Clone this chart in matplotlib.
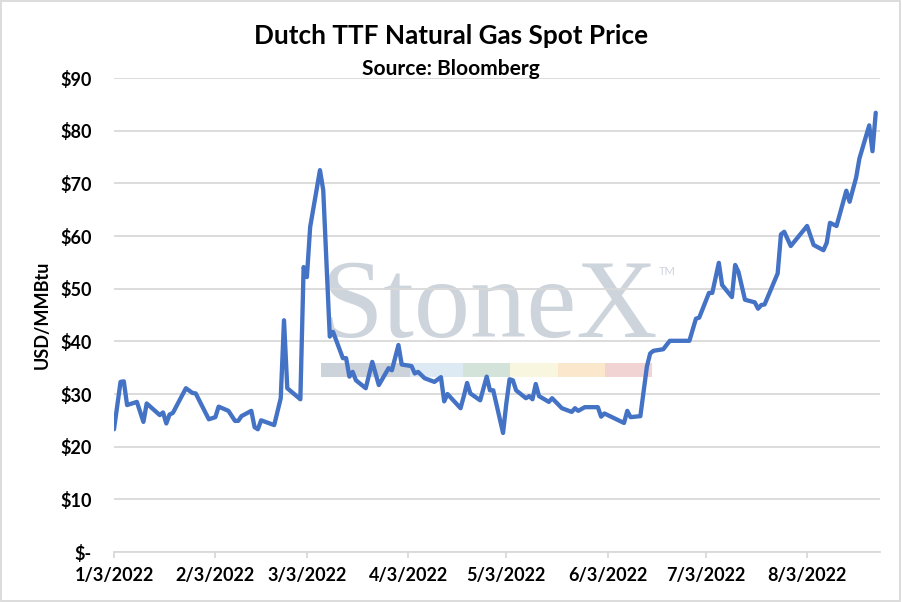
import matplotlib
matplotlib.use("Agg")
import matplotlib.pyplot as plt
from matplotlib.patches import Rectangle
import pandas as pd

# values (USD/MMBtu)
dates = [
    "2022-01-03", "2022-01-05", "2022-01-06", "2022-01-07", "2022-01-10", "2022-01-12",
    "2022-01-13", "2022-01-17", "2022-01-18", "2022-01-19", "2022-01-20", "2022-01-21",
    "2022-01-25", "2022-01-27", "2022-01-28", "2022-02-01", "2022-02-03", "2022-02-04",
    "2022-02-07", "2022-02-09", "2022-02-10", "2022-02-11", "2022-02-14", "2022-02-15",
    "2022-02-16", "2022-02-17", "2022-02-21", "2022-02-23", "2022-02-24", "2022-02-25",
    "2022-03-01", "2022-03-02", "2022-03-03", "2022-03-04", "2022-03-07", "2022-03-08",
    "2022-03-10", "2022-03-11", "2022-03-14", "2022-03-15", "2022-03-16", "2022-03-17",
    "2022-03-18", "2022-03-21", "2022-03-23", "2022-03-25", "2022-03-28", "2022-03-29",
    "2022-03-31", "2022-04-01", "2022-04-04", "2022-04-05", "2022-04-06", "2022-04-08",
    "2022-04-11", "2022-04-13", "2022-04-14", "2022-04-15", "2022-04-19", "2022-04-20",
    "2022-04-21", "2022-04-22", "2022-04-25", "2022-04-27", "2022-04-28", "2022-04-29",
    "2022-05-02", "2022-05-03", "2022-05-04", "2022-05-05", "2022-05-06", "2022-05-09",
    "2022-05-10", "2022-05-11", "2022-05-12", "2022-05-13", "2022-05-16", "2022-05-17",
    "2022-05-20", "2022-05-23", "2022-05-24", "2022-05-25", "2022-05-27", "2022-05-31",
    "2022-06-01", "2022-06-02", "2022-06-08", "2022-06-09", "2022-06-10", "2022-06-13",
    "2022-06-15", "2022-06-16", "2022-06-17", "2022-06-20", "2022-06-22", "2022-06-28",
    "2022-06-30", "2022-07-01", "2022-07-04", "2022-07-05", "2022-07-07", "2022-07-08",
    "2022-07-11", "2022-07-12", "2022-07-13", "2022-07-15", "2022-07-18", "2022-07-19",
    "2022-07-20", "2022-07-21", "2022-07-25", "2022-07-26", "2022-07-27", "2022-07-29",
    "2022-08-03", "2022-08-05", "2022-08-08", "2022-08-09", "2022-08-10", "2022-08-12",
    "2022-08-15", "2022-08-16", "2022-08-18", "2022-08-19", "2022-08-22", "2022-08-23",
    "2022-08-24",
]
prices = [
    23.3, 32.3, 32.4, 27.9, 28.5, 24.7,
    28.2, 26.0, 26.5, 24.4, 26.1, 26.4,
    31.1, 30.2, 30.1, 25.2, 25.6, 27.6,
    26.8, 24.9, 24.9, 25.8, 26.8, 23.7,
    23.3, 25.0, 24.1, 29.2, 44.0, 31.1,
    29.0, 54.1, 52.2, 61.7, 72.5, 68.7,
    40.9, 41.8, 36.8, 36.8, 33.3, 34.2,
    32.6, 31.1, 36.1, 31.7, 34.9, 34.5,
    39.3, 35.6, 35.3, 33.9, 34.2, 33.0,
    32.3, 33.2, 28.6, 30.0, 27.3, 29.6,
    32.1, 30.1, 28.8, 33.3, 30.7, 30.7,
    22.6, 28.2, 32.8, 32.6, 30.7, 29.2,
    29.6, 29.0, 31.9, 29.6, 28.5, 29.2,
    27.3, 26.6, 27.3, 26.8, 27.5, 27.5,
    25.7, 26.3, 24.5, 26.8, 25.6, 25.8,
    35.2, 37.7, 38.2, 38.5, 40.1, 40.1,
    44.3, 44.5, 49.2, 49.2, 54.9, 50.7,
    48.4, 54.5, 53.2, 47.9, 47.4, 46.2,
    46.9, 47.0, 52.9, 60.3, 60.8, 58.1,
    61.9, 58.3, 57.3, 58.7, 62.5, 61.9,
    68.6, 66.5, 71.1, 74.7, 81.0, 76.1,
    83.4,
]

tick_dates = ["2022-01-03", "2022-02-03", "2022-03-03", "2022-04-03",
              "2022-05-03", "2022-06-03", "2022-07-03", "2022-08-03"]
tick_labels = ["1/3/2022", "2/3/2022", "3/3/2022", "4/3/2022",
               "5/3/2022", "6/3/2022", "7/3/2022", "8/3/2022"]
y_ticks = [0, 10, 20, 30, 40, 50, 60, 70, 80, 90]
y_labels = ["$-", "$10", "$20", "$30", "$40", "$50", "$60", "$70", "$80", "$90"]

plt.rcParams['font.family'] = ['Lato', 'DejaVu Sans']
plt.rcParams['font.weight'] = 'bold'

df = pd.DataFrame({"Date": pd.to_datetime(dates), "Price": prices})

fig = plt.figure(figsize=(9.02, 6.02), dpi=100)
ax = fig.add_axes([114 / 902, 1 - 552 / 602, 766 / 902, 474 / 602])

# watermark behind everything
ax.text(0.270, 0.454, "StoneX", transform=ax.transAxes, fontsize=81,
        family="Liberation Serif", fontweight="normal", color="#cdd4dc",
        ha="left", va="baseline", zorder=0)
ax.text(0.711, 0.585, "TM", transform=ax.transAxes, fontsize=8,
        fontweight="normal", color="#cdd4dc", zorder=0)
bar_edges = [0.2702, 0.3864, 0.4556, 0.5170, 0.5796, 0.6410, 0.7023]
bar_colors = ["#cdd3db", "#dde9f3", "#d3e3da", "#f8f6de", "#fbe8cc", "#f2d3d4"]
for i, c in enumerate(bar_colors):
    ax.add_patch(Rectangle((bar_edges[i], 0.3686), bar_edges[i + 1] - bar_edges[i], 0.0295,
                           transform=ax.transAxes, facecolor=c, edgecolor="none", zorder=0))

ax.plot(df["Date"], df["Price"], color="#4472c4", linewidth=3.1, zorder=3,
        solid_joinstyle="round", solid_capstyle="round")

ax.set_ylim(0, 90)
ax.set_xlim(pd.Timestamp("2022-01-03"), pd.Timestamp("2022-01-03") + pd.Timedelta(days=234.3))
ax.set_yticks(y_ticks)
ax.set_yticklabels(y_labels)
ax.set_xticks(pd.to_datetime(tick_dates))
ax.set_xticklabels(tick_labels)

ax.grid(axis="y", color="#d9d9d9", linewidth=1.3, zorder=1)
ax.set_axisbelow(True)
for s in ["top", "right", "left"]:
    ax.spines[s].set_visible(False)
ax.spines["bottom"].set_color("#d9d9d9")
ax.spines["bottom"].set_linewidth(1.3)
ax.tick_params(axis="y", length=0, pad=16, labelsize=13)
ax.tick_params(axis="x", length=4, width=1.3, color="#d9d9d9", pad=7, labelsize=13)
ax.patch.set_alpha(0)

ax.set_ylabel("USD/MMBtu", fontsize=13, fontweight="bold", labelpad=7)

fig.text(0.5, 1 - 36 / 602, "Dutch TTF Natural Gas Spot Price", ha="center", va="center",
         fontsize=18.8, fontweight="bold")
fig.text(0.5, 1 - 69 / 602, "Source: Bloomberg", ha="center", va="center",
         fontsize=15, fontweight="bold")

fig.add_artist(Rectangle((0.001, 0.001), 0.997, 0.997, transform=fig.transFigure,
                         fill=False, edgecolor="#d9d9d9", linewidth=1.3))

fig.savefig("out.png", dpi=100)
